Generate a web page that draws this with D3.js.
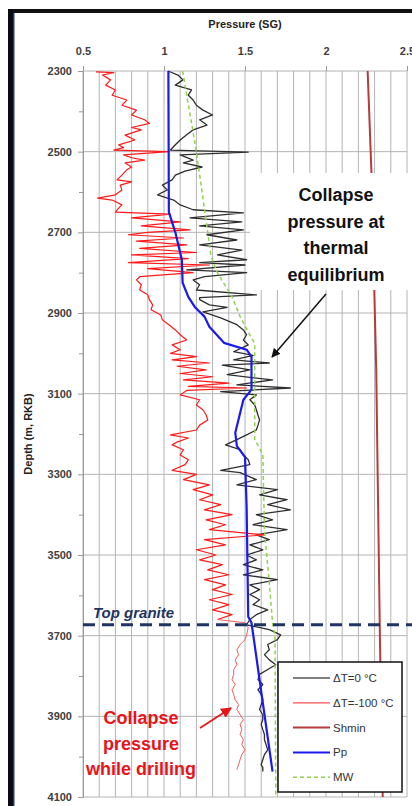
<!DOCTYPE html>
<html lang="en">
<head>
    <meta charset="UTF-8">
    <title>Collapse pressure vs depth</title>
    <script src="https://d3js.org/d3.v7.min.js"></script>
    <style>
        body {
            margin: 0;
            padding: 0;
            background: #ffffff;
        }
        svg {
            display: block;
            font-family: 'Liberation Sans', Arial, sans-serif;
        }
        .grid line {
            stroke: #b4b4b4;
            stroke-width: 1;
        }
        .axis text {
            fill: #404040;
            font-size: 11px;
        }
    </style>
</head>
<body>
    <svg width="412" height="806"></svg>

    <script>
        // ---- data: [depth (m RKB), pressure (SG)] ----
        const xTicks = [0.5, 1, 1.5, 2, 2.5];
        const depthTicks = [2300, 2500, 2700, 2900, 3100, 3300, 3500, 3700, 3900, 4100];
        const depthMinor = [2400, 2600, 2800, 3000, 3200, 3400, 3600, 3800, 4000];

        // collapse pressure, thermal equilibrium
        const dt0 = [
            [2300,1.025],[2310,1.086],[2322,1.117],[2335,1.07],[2347,1.17],[2360,1.15],[2372,1.18],
            [2385,1.20],[2397,1.24],[2409,1.30],[2421,1.22],[2434,1.265],[2446,1.18],[2458,1.14],
            [2471,1.10],[2483,1.07],[2496,1.04],[2501,1.52],[2508,1.10],[2521,1.18],[2528,1.12],
            [2538,1.235],[2548,1.13],[2558,1.07],[2570,1.05],[2583,0.99],[2595,1.02],[2607,0.96],
            [2620,1.06],[2632,1.10],[2644,1.18],[2652,1.49],[2664,1.16],[2674,1.48],[2684,1.22],
            [2694,1.49],[2706,1.265],[2719,1.45],[2731,1.22],[2744,1.48],[2756,1.33],[2768,1.51],
            [2775,1.22],[2781,1.50],[2793,1.14],[2800,1.51],[2810,1.25],[2818,1.18],[2830,1.22],
            [2843,1.20],[2855,1.57],[2862,1.22],[2867,1.22],[2880,1.28],[2886,1.39],[2897,1.24],
            [2912,1.35],[2929,1.45],[2942,1.49],[2954,1.51],[2967,1.49],[2979,1.52],[2996,1.43],
            [3005,1.55],[3016,1.43],[3024,1.65],[3029,1.36],[3041,1.53],[3053,1.39],[3066,1.67],
            [3078,1.45],[3086,1.78],[3095,1.35],[3103,1.57],[3115,1.53],[3128,1.56],[3140,1.57],
            [3153,1.58],[3165,1.59],[3178,1.58],[3190,1.57],[3202,1.51],[3214,1.45],[3227,1.38],
            [3239,1.47],[3252,1.49],[3264,1.52],[3276,1.53],[3290,1.35],[3296,1.47],[3313,1.57],
            [3326,1.45],[3338,1.70],[3351,1.59],[3363,1.76],[3375,1.64],[3388,1.78],[3400,1.57],
            [3413,1.67],[3425,1.55],[3437,1.76],[3450,1.57],[3462,1.65],[3475,1.53],[3487,1.61],
            [3500,1.51],[3512,1.57],[3524,1.49],[3537,1.61],[3549,1.49],[3561,1.70],[3574,1.53],
            [3586,1.59],[3598,1.53],[3611,1.59],[3623,1.55],[3636,1.64],[3648,1.57],[3660,1.53],
            [3673,1.51],[3685,1.65],[3698,1.72],[3710,1.70],[3722,1.64],[3735,1.65],[3747,1.62],
            [3760,1.65],[3772,1.69],[3784,1.64],[3796,1.59],[3809,1.58],[3821,1.61],[3834,1.58],
            [3846,1.60],[3859,1.61],[3871,1.60],[3883,1.59],[3896,1.61],[3908,1.61],[3920,1.60],
            [3933,1.61],[3945,1.62],[3958,1.62],[3970,1.63],[3983,1.64],[3995,1.62],[4007,1.61],
            [4020,1.60],[4027,1.61],[4037,1.61]
        ];

        // collapse pressure while drilling (dT = -100 C)
        const dt100 = [
            [2302,0.58],[2304,0.69],[2310,0.62],[2322,0.67],[2335,0.64],[2347,0.70],[2360,0.68],
            [2372,0.77],[2385,0.74],[2397,0.83],[2409,0.80],[2421,0.88],[2430,0.91],[2440,0.80],
            [2446,0.86],[2459,0.76],[2471,0.82],[2483,0.72],[2490,0.75],[2496,0.69],[2500,1.03],
            [2508,0.75],[2515,0.80],[2521,0.88],[2528,0.76],[2538,0.80],[2545,0.77],[2558,0.74],
            [2570,0.71],[2575,0.80],[2583,0.73],[2595,0.74],[2607,0.70],[2615,0.59],[2620,0.68],
            [2632,0.74],[2640,0.72],[2650,0.70],[2655,1.04],[2664,0.80],[2674,1.10],[2684,0.86],
            [2694,1.16],[2700,0.90],[2706,0.78],[2714,1.12],[2722,0.83],[2731,1.14],[2740,0.85],
            [2750,1.20],[2756,0.80],[2765,1.15],[2775,0.78],[2781,1.28],[2790,0.90],[2800,1.18],
            [2810,0.85],[2818,0.83],[2830,0.86],[2843,0.85],[2855,0.90],[2867,0.91],[2880,0.93],
            [2892,0.92],[2905,0.98],[2917,0.99],[2929,1.03],[2942,1.07],[2954,1.10],[2967,1.14],
            [2979,1.05],[2991,1.10],[3000,1.04],[3008,1.20],[3016,1.05],[3024,1.28],[3032,1.08],
            [3041,1.26],[3050,1.10],[3058,1.30],[3066,1.12],[3074,1.40],[3082,1.15],[3086,1.51],
            [3092,1.14],[3103,1.10],[3115,1.22],[3128,1.20],[3140,1.24],[3153,1.26],[3165,1.27],
            [3178,1.22],[3190,1.20],[3202,1.04],[3210,1.15],[3220,1.08],[3227,1.05],[3239,1.12],
            [3252,1.10],[3264,1.15],[3276,1.13],[3290,1.05],[3300,1.20],[3313,1.12],[3326,1.28],
            [3338,1.18],[3351,1.30],[3363,1.22],[3375,1.35],[3388,1.25],[3400,1.42],[3413,1.26],
            [3425,1.38],[3437,1.28],[3450,1.62],[3462,1.25],[3475,1.38],[3487,1.20],[3500,1.32],
            [3512,1.22],[3524,1.36],[3537,1.27],[3549,1.40],[3561,1.25],[3574,1.38],[3586,1.30],
            [3598,1.42],[3611,1.28],[3623,1.40],[3636,1.30],[3648,1.42],[3660,1.33],[3668,1.50],
            [3680,1.52],[3698,1.51],[3710,1.50],[3722,1.47],[3735,1.45],[3747,1.46],[3760,1.44],
            [3772,1.45],[3784,1.43],[3796,1.43],[3809,1.42],[3821,1.44],[3834,1.42],[3846,1.43],
            [3859,1.44],[3871,1.46],[3883,1.45],[3896,1.47],[3908,1.49],[3920,1.47],[3933,1.48],
            [3945,1.47],[3958,1.49],[3970,1.48],[3983,1.50],[3995,1.48],[4007,1.47],[4020,1.46],
            [4032,1.45]
        ];

        const shmin = [[2300,2.257],[2545,2.28],[3040,2.31],[3710,2.333],[4100,2.35]];

        const pp = [
            [2300,1.027],[2650,1.03],[2700,1.07],[2768,1.11],[2825,1.115],[2860,1.15],[2885,1.19],
            [2909,1.25],[2934,1.28],[2974,1.37],[2991,1.51],[3008,1.54],[3090,1.54],[3115,1.49],
            [3197,1.44],[3230,1.45],[3257,1.50],[3380,1.51],[3653,1.52],[3668,1.54],[3710,1.555],
            [4037,1.67]
        ];

        const mw = [
            [2300,1.115],[2500,1.20],[2700,1.27],[2760,1.29],[2800,1.33],[2860,1.42],[2909,1.47],
            [2962,1.54],[2975,1.56],[3214,1.56],[3250,1.61],[3440,1.62],[3569,1.65],[3668,1.67],
            [3700,1.685],[4100,1.69]
        ];

        const topGranite = 3673;

        const seriesNames = ["ΔT=0 °C", "ΔT=-100 °C", "Shmin", "Pp", "MW"];

        // ---- layout ----
        const svg = d3.select("svg");
        const x = d3.scaleLinear().domain([0.5, 2.5]).range([83, 407]);
        const y = d3.scaleLinear().domain([2300, 4100]).range([71, 797]);

        // outer frame (screenshot border)
        svg.append("rect").attr("x", 8).attr("y", 9).attr("width", 404).attr("height", 4).attr("fill", "#111");
        svg.append("rect").attr("x", 8).attr("y", 9).attr("width", 5).attr("height", 797).attr("fill", "#0b0b14");
        svg.append("rect").attr("x", 13).attr("y", 13).attr("width", 1.5).attr("height", 793).attr("fill", "#1c3c8c");

        // vertical grid every 0.1 SG
        const vGrid = d3.range(5, 26).map(d => d / 10);
        svg.append("g").attr("class", "grid")
            .selectAll("line").data(vGrid).enter().append("line")
            .attr("x1", d => x(d)).attr("x2", d => x(d))
            .attr("y1", y(2300)).attr("y2", y(4100));

        // horizontal grid at labelled depths
        svg.append("g").attr("class", "grid")
            .selectAll("line").data(depthTicks).enter().append("line")
            .attr("x1", x(0.5)).attr("x2", x(2.5))
            .attr("y1", d => y(d)).attr("y2", d => y(d));

        // top axis
        const xAxis = svg.append("g").attr("class", "axis")
            .attr("transform", `translate(0,${y(2300)})`)
            .call(d3.axisTop(x).tickValues(xTicks).tickSize(5).tickPadding(11).tickFormat(d3.format("")));
        xAxis.select(".domain").remove();
        xAxis.selectAll("line").attr("stroke", "#9a9a9a");

        // left axis
        const yAxis = svg.append("g").attr("class", "axis")
            .attr("transform", `translate(${x(0.5)},0)`)
            .call(d3.axisLeft(y).tickValues(depthTicks).tickSize(5).tickPadding(6).tickFormat(d3.format("d")));
        yAxis.select(".domain").attr("stroke", "#9a9a9a");
        yAxis.selectAll("line").attr("stroke", "#9a9a9a");
        yAxis.selectAll("text").attr("font-weight", "bold").attr("fill", "#3a3a3a");
        xAxis.selectAll("text").attr("font-weight", "bold").attr("fill", "#3a3a3a");

        svg.append("g")
            .attr("transform", `translate(${x(0.5)},0)`)
            .call(d3.axisLeft(y).tickValues(depthMinor).tickSize(4).tickFormat(""))
            .call(g => g.select(".domain").remove())
            .selectAll("line").attr("stroke", "#9a9a9a");

        // axis titles
        svg.append("text")
            .attr("x", 245).attr("y", 28)
            .attr("text-anchor", "middle")
            .attr("font-size", 11).attr("font-weight", "bold").attr("fill", "#222")
            .text("Pressure (SG)");
        svg.append("text")
            .attr("transform", `translate(32,${y(3200)}) rotate(-90)`)
            .attr("text-anchor", "middle")
            .attr("font-size", 11).attr("font-weight", "bold").attr("fill", "#222")
            .text("Depth (m, RKB)");

        // ---- series ----
        const line = d3.line().x(d => x(d[1])).y(d => y(d[0]));
        const styles = [
            { data: dt0, color: "#2e2e2e", width: 1.3, dash: null },
            { data: dt100, color: "#ff1a1a", width: 1.2, dash: null },
            { data: shmin, color: "#b83a3a", width: 2, dash: null },
            { data: pp, color: "#1a1aee", width: 2.2, dash: null },
            { data: mw, color: "#92d050", width: 1.5, dash: "4,3" }
        ];
        styles.forEach((s, i) => {
            // the drilling curve is drawn lighter below the top of the granite
            let parts = [s.data];
            if (i === 1) {
                const k = s.data.findIndex(d => d[0] >= 3660);
                parts = [s.data.slice(0, k + 1), s.data.slice(k)];
            }
            parts.forEach((p, j) => {
                svg.append("path")
                    .datum(p)
                    .attr("d", line)
                    .attr("fill", "none")
                    .attr("stroke", j === 1 ? "#f25c5c" : s.color)
                    .attr("stroke-width", j === 1 ? 1 : s.width)
                    .attr("stroke-dasharray", s.dash)
                    .attr("stroke-linejoin", "round");
            });
        });

        // top granite marker
        svg.append("line")
            .attr("x1", x(0.5)).attr("x2", 412)
            .attr("y1", y(topGranite)).attr("y2", y(topGranite))
            .attr("stroke", "#1f3461").attr("stroke-width", 3)
            .attr("stroke-dasharray", "12,7");
        svg.append("text")
            .attr("x", 93).attr("y", 618)
            .attr("font-size", 15).attr("font-weight", "bold").attr("font-style", "italic")
            .attr("fill", "#1f3461")
            .text("Top granite");

        // arrow heads
        const defs = svg.append("defs");
        [["arrBlack", "#111"], ["arrRed", "#e8141b"]].forEach(([id, c]) => {
            defs.append("marker")
                .attr("id", id).attr("viewBox", "0 0 10 10")
                .attr("refX", 9).attr("refY", 5)
                .attr("markerWidth", 6).attr("markerHeight", 6)
                .attr("orient", "auto")
                .append("path").attr("d", "M0,0L10,5L0,10z").attr("fill", c);
        });

        // annotation: thermal equilibrium
        svg.append("rect")
            .attr("x", 250).attr("y", 173).attr("width", 162).attr("height", 117)
            .attr("fill", "#fff");
        const ann1 = ["Collapse", "pressure at", "thermal", "equilibrium"];
        svg.append("g").selectAll("text").data(ann1).enter().append("text")
            .attr("x", 336).attr("y", (d, i) => 201 + i * 26.5)
            .attr("text-anchor", "middle")
            .attr("font-size", 18).attr("font-weight", "bold").attr("fill", "#111")
            .text(d => d);
        svg.append("line")
            .attr("x1", 326).attr("y1", 294).attr("x2", 272).attr("y2", 357)
            .attr("stroke", "#111").attr("stroke-width", 1.5)
            .attr("marker-end", "url(#arrBlack)");

        // annotation: while drilling
        const ann2 = ["Collapse", "pressure", "while drilling"];
        svg.append("g").selectAll("text").data(ann2).enter().append("text")
            .attr("x", 141).attr("y", (d, i) => 724 + i * 25.5)
            .attr("text-anchor", "middle")
            .attr("font-size", 18).attr("font-weight", "bold").attr("fill", "#e8141b")
            .text(d => d);
        svg.append("line")
            .attr("x1", 200).attr("y1", 728).attr("x2", 231).attr("y2", 708)
            .attr("stroke", "#e8141b").attr("stroke-width", 1.8)
            .attr("marker-end", "url(#arrRed)");

        // ---- legend ----
        const legend = svg.append("g").attr("transform", "translate(278,662)");
        legend.append("rect")
            .attr("width", 124).attr("height", 130)
            .attr("fill", "#fff").attr("stroke", "#111").attr("stroke-width", 1.5);
        const item = legend.selectAll(".item").data(styles).enter().append("g")
            .attr("transform", (d, i) => `translate(0,${16 + i * 24.8})`);
        item.append("line")
            .attr("x1", 15).attr("x2", 52)
            .attr("stroke", (d, i) => i === 0 ? "#555" : (i === 1 ? "#ff5050" : d.color))
            .attr("stroke-width", d => Math.min(d.width, 2))
            .attr("stroke-dasharray", d => d.dash);
        item.append("text")
            .attr("x", 55).attr("y", 4)
            .attr("font-size", 11.5).attr("fill", "#333")
            .text((d, i) => seriesNames[i]);
    </script>
</body>
</html>
